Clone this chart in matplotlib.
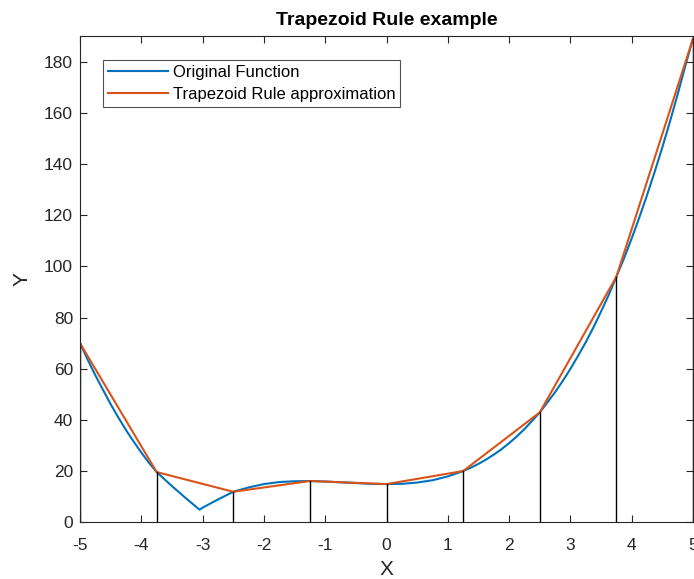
import numpy as np
import matplotlib.pyplot as plt

plt.rcParams['font.family'] = ['Liberation Sans', 'DejaVu Sans']
plt.rcParams['axes.unicode_minus'] = False

# original function
x_fun = [-5.0, -4.875, -4.75, -4.625, -4.5, -4.375, -4.25, -4.125, -4.0, -3.875,
         -3.75, -3.5, -3.25, -3.05, -3.0, -2.75,
         -2.5, -2.25, -2.0, -1.75, -1.5, -1.25, -1.0, -0.75, -0.5, -0.25, 0.0,
         0.25, 0.5, 0.75, 1.0, 1.25, 1.375, 1.5, 1.625, 1.75, 1.875, 2.0, 2.125,
         2.25, 2.375, 2.5, 2.625, 2.75, 2.875, 3.0, 3.125, 3.25, 3.375, 3.5,
         3.625, 3.75, 3.875, 4.0, 4.125, 4.25, 4.375, 4.5, 4.625, 4.75, 4.875, 5.0]
y_fun = [70.0, 63.6, 57.5, 51.8, 46.2, 41.0, 36.1, 31.6, 27.3, 23.3,
         19.7, 14.2, 9.0, 5.0, 5.8, 9.0,
         12.0, 13.7, 15.0, 15.8, 16.1, 16.2, 16.0, 15.7, 15.4, 15.1, 15.0,
         15.1, 15.6, 16.5, 18.0, 20.1, 21.4, 22.9, 24.6, 26.5, 28.6, 31.0, 33.6,
         36.5, 39.7, 43.0, 46.9, 50.9, 55.3, 60.0, 65.1, 70.4, 76.2, 82.4,
         88.9, 96.0, 103.2, 111.0, 119.2, 127.9, 137.0, 146.6, 156.7, 167.3, 178.4, 189.0]

# trapezoid nodes
x_nodes = [-5.0, -3.75, -2.5, -1.25, 0.0, 1.25, 2.5, 3.75, 5.0]
y_nodes = [70.0, 19.7, 12.0, 16.2, 15.0, 20.1, 43.0, 96.0, 189.0]

fig = plt.figure(figsize=(6.94, 5.79), dpi=100)
ax = fig.add_axes([0.1153, 0.0976, 0.8833, 0.8402])

ax.plot(x_fun, y_fun, color='#0072BD', lw=1.5, label='Original Function')
ax.plot(x_nodes, y_nodes, color='#D95319', lw=1.5, label='Trapezoid Rule approximation')
for xn, yn in zip(x_nodes, y_nodes):
    ax.plot([xn, xn], [0, yn], color='black', lw=1.0)

ax.set_xlim(-5, 5)
ax.set_ylim(0, 190)
ax.set_xticks(range(-5, 6))
ax.set_yticks(range(0, 181, 20))

gray = '#262626'
ax.tick_params(direction='in', top=True, right=True, length=5, width=0.8,
               labelsize=12.5, colors=gray)
ax.tick_params(axis='x', pad=11)
ax.tick_params(axis='y', pad=5)
for s in ax.spines.values():
    s.set_color(gray)
    s.set_linewidth(0.8)

ax.set_title('Trapezoid Rule example', fontsize=14, fontweight='bold', pad=8)
ax.set_xlabel('X', fontsize=15, color=gray, labelpad=5)
ax.set_ylabel('Y', fontsize=15, color=gray, labelpad=9)

leg = ax.legend(loc='upper left', bbox_to_anchor=(0.037, 0.951), fontsize=12,
                handlelength=3.6, frameon=True, fancybox=False, borderpad=0.3,
                labelspacing=0.4, handletextpad=0.3, borderaxespad=0)
leg.get_frame().set_edgecolor(gray)
leg.get_frame().set_linewidth(0.8)

fig.savefig('out.png', dpi=100)
